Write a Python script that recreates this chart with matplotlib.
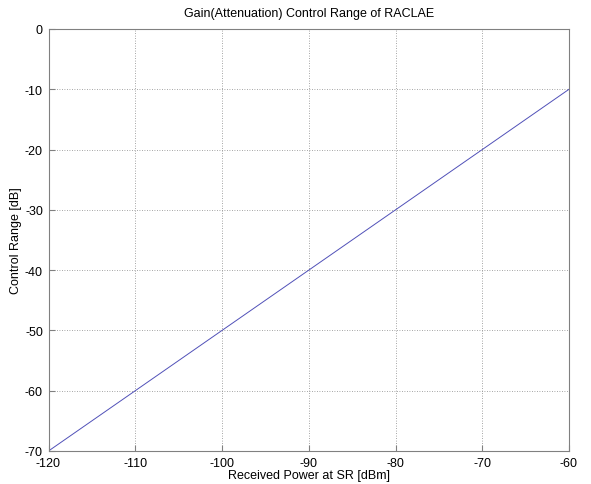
import matplotlib
matplotlib.use("Agg")
import matplotlib.pyplot as plt
import numpy as np

received_power = [-120, -60]
control_range = [-70, -10]
xticks = [-120, -110, -100, -90, -80, -70, -60]
yticks = [-70, -60, -50, -40, -30, -20, -10, 0]

plt.rcParams['font.family'] = ['Liberation Sans', 'DejaVu Sans']
plt.rcParams['font.size'] = 9
plt.rcParams['axes.unicode_minus'] = False

fig = plt.figure(figsize=(5.91, 4.85), dpi=100)
ax = fig.add_axes([48.5/591, 1-452/485, (569-48.5)/591, (452-30)/485])
ax.plot(received_power, control_range, color='#5050b8', lw=0.7)
ax.set_xlim(-120, -60)
ax.set_ylim(-70, 0)
ax.set_xticks(xticks)
ax.set_yticks(yticks)
ax.grid(True, linestyle=(0, (1, 2)), color='#888888', lw=0.6)
ax.tick_params(direction='in', length=4, color='#808080', labelsize=9)
ax.tick_params(axis='x', pad=4.5)
ax.tick_params(axis='y', pad=4)
for s in ax.spines.values():
    s.set_color('#808080')
    s.set_linewidth(0.8)
ax.set_title('Gain(Attenuation) Control Range of RACLAE', fontsize=9, pad=9)
ax.set_xlabel('Received Power at SR [dBm]', fontsize=9, labelpad=0)
ax.set_ylabel('Control Range [dB]', fontsize=9, labelpad=2)
fig.savefig('out.png', dpi=100)
